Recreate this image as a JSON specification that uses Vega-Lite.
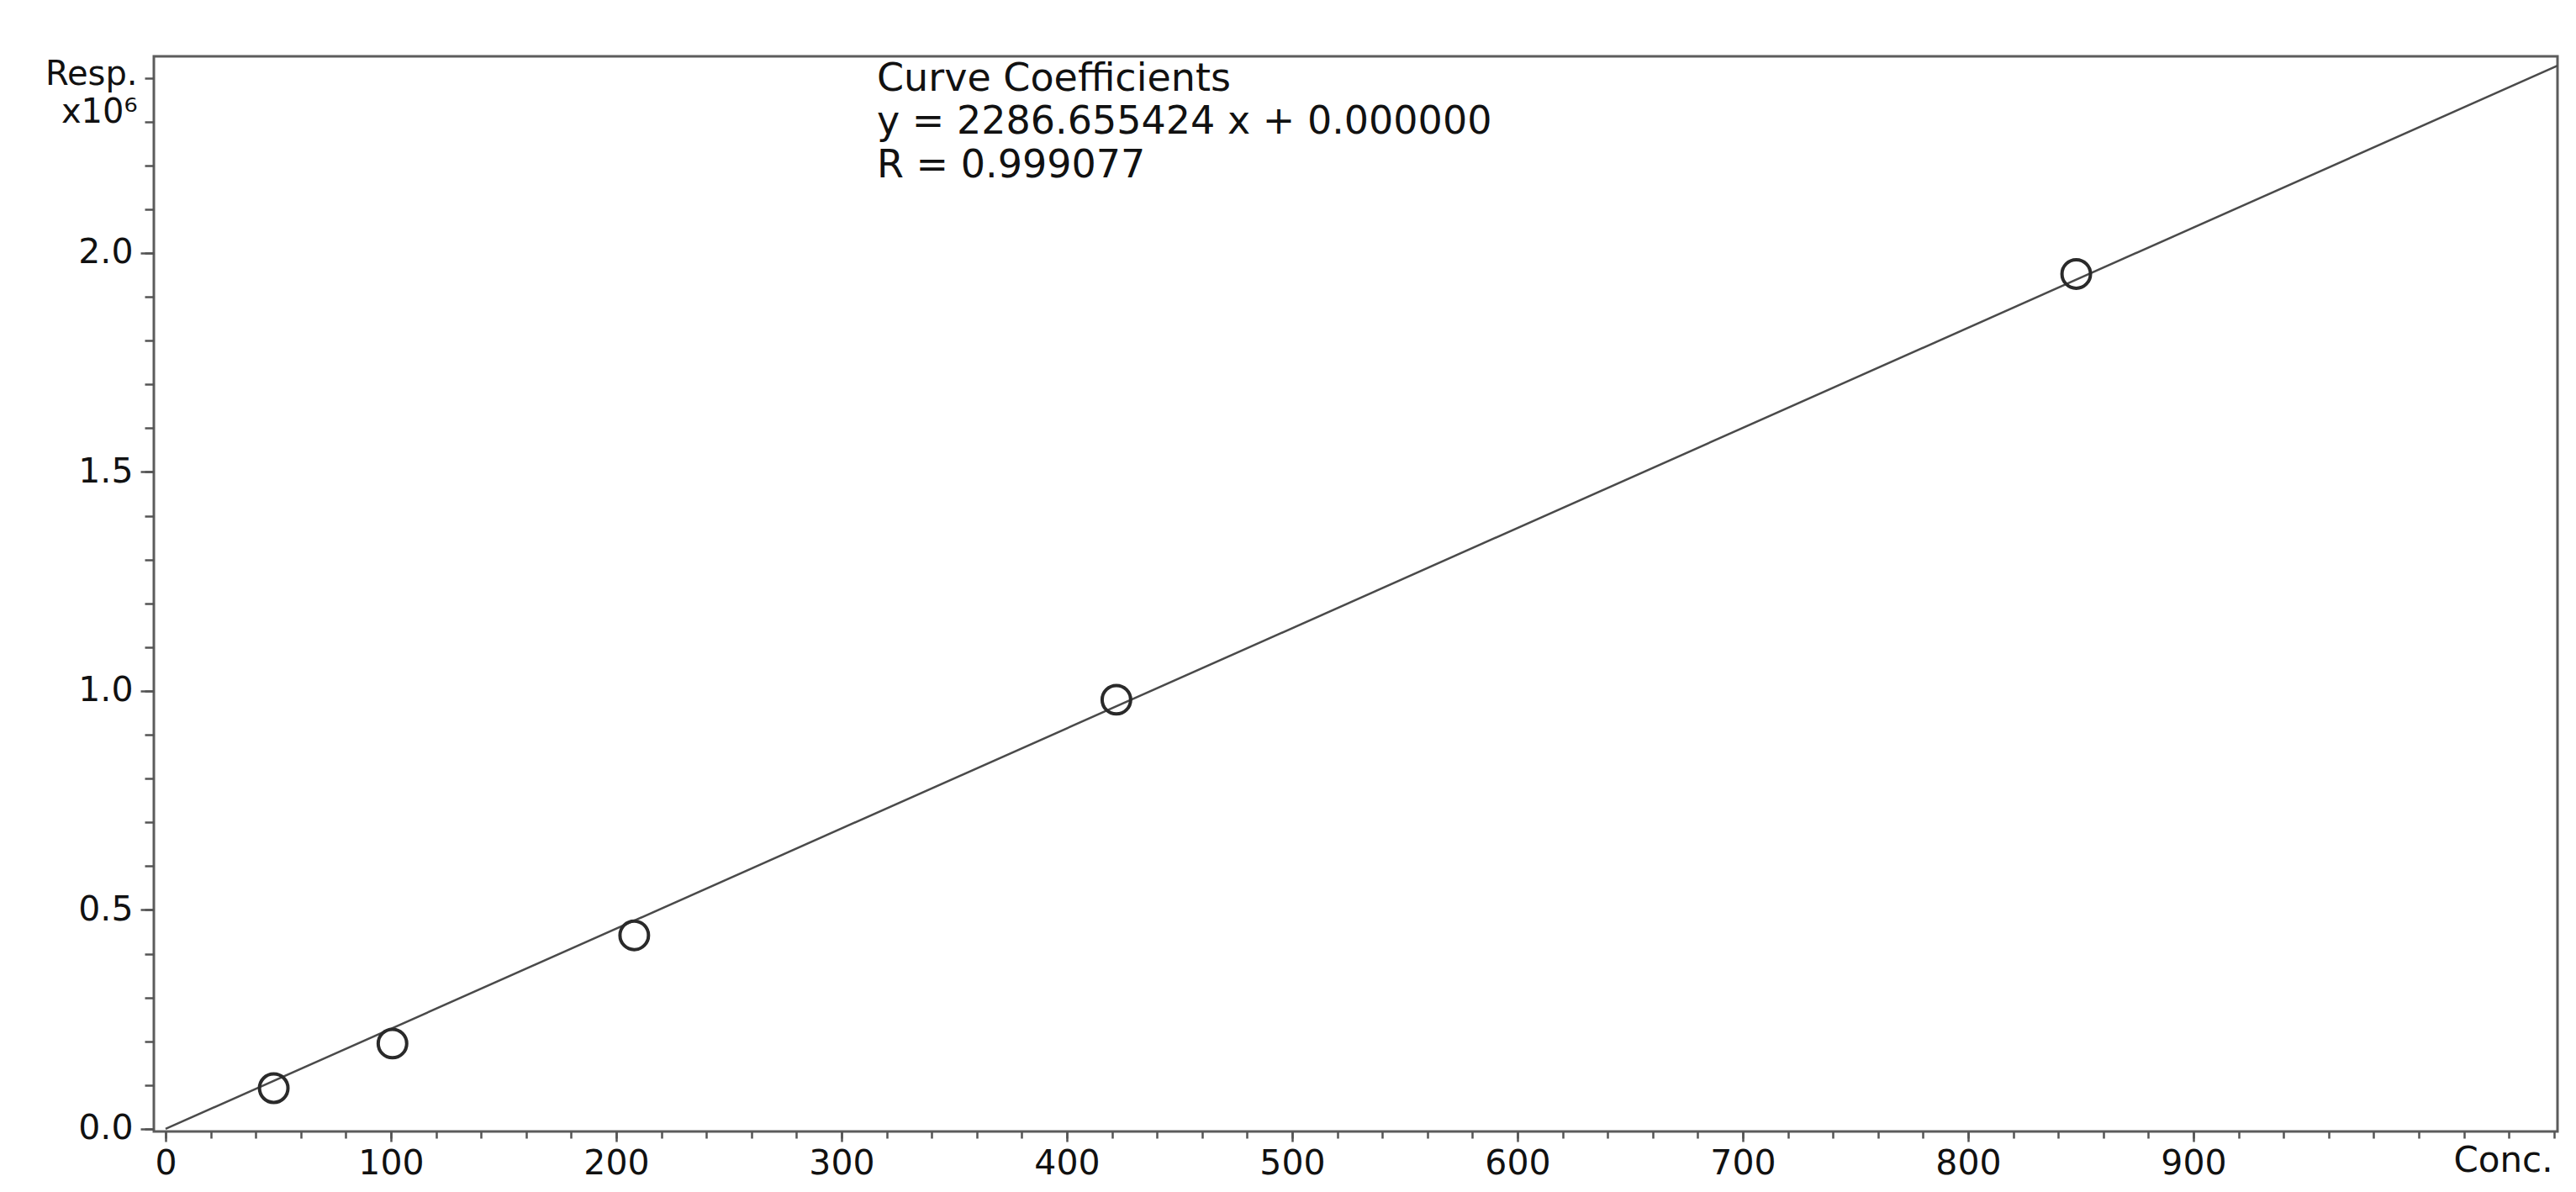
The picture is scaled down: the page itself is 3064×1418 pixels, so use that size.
{
  "$schema": "https://vega.github.io/schema/vega-lite/v6.json",
  "width": 2859,
  "height": 1279,
  "autosize": {"type": "none"},
  "padding": {"left": 183, "top": 67, "right": 22, "bottom": 72},
  "background": "white",
  "config": {
    "font": "DejaVu Sans",
    "view": {"stroke": "#5c5c5c", "strokeWidth": 3},
    "axis": {
      "domain": false,
      "grid": false,
      "tickColor": "#555555",
      "tickWidth": 2.5,
      "labelColor": "#111111",
      "labelFont": "DejaVu Sans",
      "labelFontSize": 41,
      "titleFont": "DejaVu Sans",
      "titleFontWeight": "normal",
      "titleColor": "#111111"
    }
  },
  "datasets": {
    "fit": [
      {"conc": 0, "resp": 0},
      {"conc": 1061.6, "resp": 2427514}
    ],
    "standards": [
      {"conc": 48, "resp": 93000},
      {"conc": 100.7, "resp": 195000},
      {"conc": 208, "resp": 442000},
      {"conc": 422, "resp": 980000},
      {"conc": 848, "resp": 1952000}
    ],
    "notes": [
      {"conc": 315.7, "resp": 2370400, "label": "Curve Coefficients"},
      {"conc": 315.7, "resp": 2272500, "label": "y = 2286.655424 x + 0.000000"},
      {"conc": 315.7, "resp": 2172700, "label": "R = 0.999077"}
    ]
  },
  "layer": [
    {
      "data": {"name": "fit"},
      "mark": {"type": "line", "color": "#4a4a4a", "strokeWidth": 2.5, "clip": true},
      "encoding": {
        "x": {
          "field": "conc", "type": "quantitative",
          "scale": {"domain": [-5.2, 1061.6], "nice": false, "zero": false},
          "axis": {
            "orient": "bottom",
            "values": [0,20,40,60,80,100,120,140,160,180,200,220,240,260,280,300,320,340,360,380,400,420,440,460,480,500,520,540,560,580,600,620,640,660,680,700,720,740,760,780,800,820,840,860,880,900,920,940,960,980,1000,1020,1040,1060],
            "labels": false, "title": null, "tickSize": 8
          }
        },
        "y": {
          "field": "resp", "type": "quantitative",
          "scale": {"domain": [-5800, 2449000], "nice": false, "zero": false},
          "axis": {
            "orient": "left",
            "values": [0,100000,200000,300000,400000,500000,600000,700000,800000,900000,1000000,1100000,1200000,1300000,1400000,1500000,1600000,1700000,1800000,1900000,2000000,2100000,2200000,2300000,2400000],
            "labels": false, "title": null, "tickSize": 11
          }
        }
      }
    },
    {
      "data": {"name": "standards"},
      "mark": {"type": "point", "shape": "circle", "filled": false, "size": 1150, "stroke": "#2a2a2a", "strokeWidth": 4, "opacity": 1},
      "encoding": {
        "x": {
          "field": "conc", "type": "quantitative",
          "scale": {"domain": [-5.2, 1061.6], "nice": false, "zero": false},
          "axis": {
            "orient": "bottom",
            "values": [0,100,200,300,400,500,600,700,800,900],
            "format": "d",
            "tickSize": 12,
            "labelPadding": 6,
            "title": "Conc.",
            "titleFontSize": 42,
            "titleX": 2853,
            "titleY": 47,
            "titleAlign": "right",
            "titleBaseline": "alphabetic"
          }
        },
        "y": {
          "field": "resp", "type": "quantitative",
          "scale": {"domain": [-5800, 2449000], "nice": false, "zero": false},
          "axis": {
            "orient": "left",
            "values": [0,500000,1000000,1500000,2000000],
            "labelExpr": "format(datum.value / 1000000, '.1f')",
            "tickSize": 16,
            "labelPadding": 9,
            "title": ["Resp.", "x10⁶"],
            "titleFontSize": 40,
            "titleLineHeight": 45,
            "titleAngle": 0,
            "titleAlign": "right",
            "titleBaseline": "alphabetic",
            "titleX": -20,
            "titleY": 33
          }
        }
      }
    },
    {
      "data": {"name": "notes"},
      "mark": {"type": "text", "align": "left", "baseline": "alphabetic", "fontSize": 46, "color": "#111111", "font": "DejaVu Sans"},
      "encoding": {
        "x": {"field": "conc", "type": "quantitative", "scale": {"domain": [-5.2, 1061.6], "nice": false, "zero": false}, "axis": null},
        "y": {"field": "resp", "type": "quantitative", "scale": {"domain": [-5800, 2449000], "nice": false, "zero": false}, "axis": null},
        "text": {"field": "label", "type": "nominal"}
      }
    }
  ],
  "resolve": {"axis": {"x": "independent", "y": "independent"}}
}
